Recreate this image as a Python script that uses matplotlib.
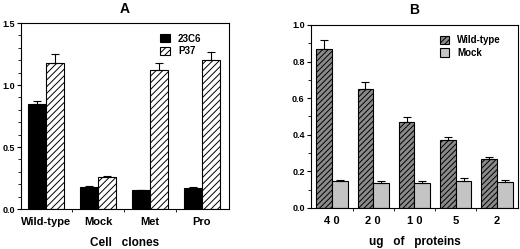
import matplotlib
matplotlib.use("Agg")
import matplotlib.pyplot as plt
import numpy as np
from matplotlib.ticker import MultipleLocator

plt.rcParams['font.family'] = ['Liberation Sans', 'DejaVu Sans']
plt.rcParams['font.weight'] = 'bold'
plt.rcParams['hatch.linewidth'] = 0.7

# Panel A data
a_categories = ["Wild-type", "Mock", "Met", "Pro"]
a_23c6 = [0.85, 0.18, 0.15, 0.17]
a_23c6_err = [0.02, 0.005, 0.004, 0.005]
a_p37 = [1.18, 0.26, 1.12, 1.20]
a_p37_err = [0.07, 0.01, 0.06, 0.07]

# Panel B data
b_categories = ["4 0", "2 0", "1 0", "5", "2"]
b_wt = [0.87, 0.65, 0.47, 0.37, 0.265]
b_wt_err = [0.05, 0.04, 0.025, 0.02, 0.015]
b_mock = [0.145, 0.138, 0.137, 0.15, 0.143]
b_mock_err = [0.01, 0.012, 0.012, 0.012, 0.01]

fig = plt.figure(figsize=(5.2, 2.49), dpi=100)
fig.patch.set_facecolor('white')

axA = fig.add_axes([0.0404, 0.1606, 0.4, 0.747])
axB = fig.add_axes([0.598, 0.1647, 0.398, 0.735])

ekw = dict(elinewidth=0.8, capsize=3, capthick=0.8, ecolor='black')

# Panel A
xa = np.arange(len(a_categories))
wa = 0.35
axA.bar(xa - wa/2, a_23c6, wa, color='black', edgecolor='black', linewidth=0.8,
        yerr=[np.zeros(len(a_23c6)), a_23c6_err], error_kw=ekw, label='23C6')
axA.bar(xa + wa/2, a_p37, wa, color='white', edgecolor='black', linewidth=0.8,
        hatch='/////', yerr=[np.zeros(len(a_p37)), a_p37_err], error_kw=ekw, label='P37')
axA.set_xlim(-0.48, 3.52)
axA.set_ylim(0, 1.5)
axA.yaxis.set_major_locator(MultipleLocator(0.5))
axA.yaxis.set_minor_locator(MultipleLocator(0.1))
axA.yaxis.set_major_formatter(plt.FuncFormatter(lambda v, p: f"{v:.1f}"))
axA.set_xticks(xa)
axA.set_xticklabels(a_categories)
axA.set_xticks(xa[:-1] + 0.5, minor=True)
axA.tick_params(axis='x', which='major', length=0, labelsize=8, pad=6)
axA.tick_params(axis='x', which='minor', length=2, direction='out', width=0.6)
axA.tick_params(axis='y', which='major', length=3, labelsize=6.5, direction='out', pad=1.5)
axA.tick_params(axis='y', which='minor', length=2, direction='out')
axA.set_xlabel("Cell   clones", fontsize=8.5, fontweight='bold', labelpad=7)
axA.set_title("A", fontsize=10, fontweight='bold', pad=7)
axA.legend(loc='upper right', bbox_to_anchor=(0.9, 0.98), frameon=False, fontsize=7,
           handlelength=1.0, handleheight=0.9, handletextpad=0.8, labelspacing=0.25,
           borderaxespad=0.3)

# Panel B
xb = np.arange(len(b_categories))
wb = 0.38
axB.bar(xb - wb/2, b_wt, wb, color='#8a8a8a', edgecolor='black', linewidth=0.8,
        hatch='//////', yerr=[np.zeros(len(b_wt)), b_wt_err], error_kw=ekw, label='Wild-type')
axB.bar(xb + wb/2, b_mock, wb, color='#c4c4c4', edgecolor='black', linewidth=0.8,
        yerr=[np.zeros(len(b_mock)), b_mock_err], error_kw=ekw, label='Mock')
axB.set_xlim(-0.51, 4.51)
axB.set_ylim(0, 1.0)
axB.yaxis.set_major_locator(MultipleLocator(0.2))
axB.yaxis.set_minor_locator(MultipleLocator(0.1))
axB.yaxis.set_major_formatter(plt.FuncFormatter(lambda v, p: f"{v:.1f}"))
axB.set_xticks(xb)
axB.set_xticklabels(b_categories)
axB.set_xticks(xb[:-1] + 0.5, minor=True)
axB.tick_params(axis='x', which='major', length=0, labelsize=8, pad=6)
axB.tick_params(axis='x', which='minor', length=2, direction='out', width=0.6)
axB.tick_params(axis='y', which='major', length=3, labelsize=6.5, direction='out', pad=1.5)
axB.tick_params(axis='y', which='minor', length=2, direction='out')
axB.set_xlabel("ug   of   proteins", fontsize=8.5, fontweight='bold', labelpad=7)
axB.set_title("B", fontsize=10, fontweight='bold', pad=8)
axB.legend(loc='upper right', bbox_to_anchor=(0.95, 0.98), frameon=False, fontsize=7,
           handlelength=0.9, handleheight=0.9, handletextpad=0.8, labelspacing=0.25,
           borderaxespad=0.3)

for ax in (axA, axB):
    for s in ax.spines.values():
        s.set_linewidth(0.8)

fig.savefig("out.png", dpi=100)
